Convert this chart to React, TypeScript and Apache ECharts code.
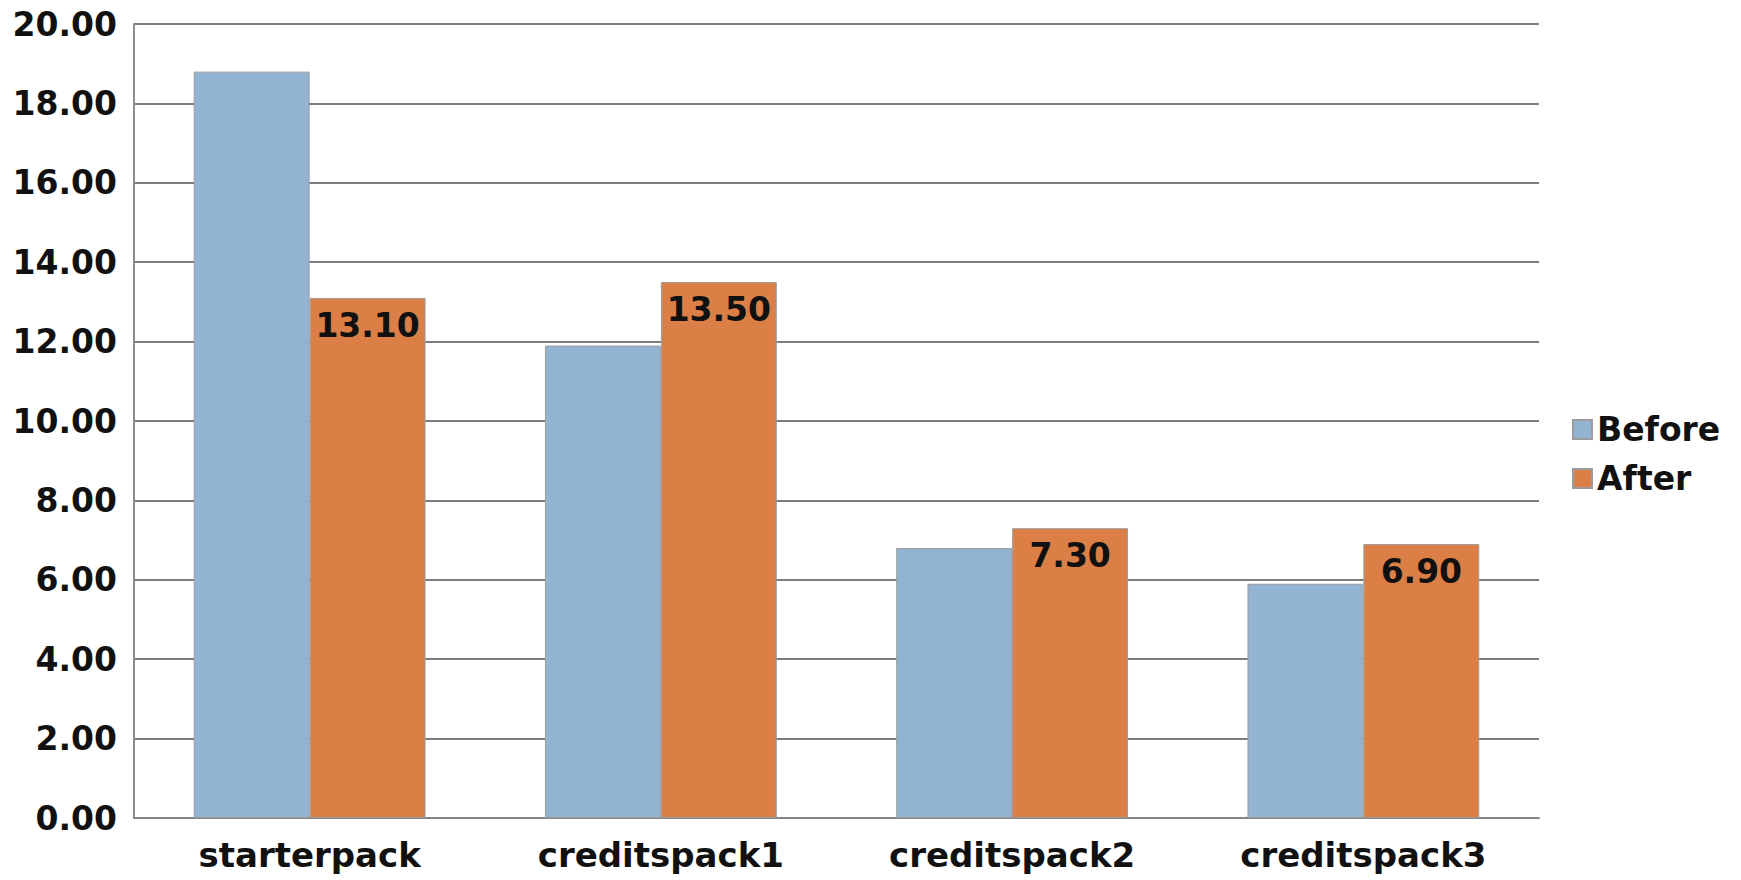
import React, { useEffect, useRef } from "react";
import * as echarts from "echarts";

const categories = ["starterpack", "creditspack1", "creditspack2", "creditspack3"];
const beforeValues = [18.8, 11.9, 6.8, 5.9];
const afterValues = [13.1, 13.5, 7.3, 6.9];
const seriesNames = ["Before", "After"];

const FONT = "DejaVu Sans";

export default function App() {
  const ref = useRef<HTMLDivElement>(null);
  useEffect(() => {
    if (!ref.current) return;
    const chart = echarts.init(ref.current, null, { renderer: "svg" });
    chart.setOption({
      animation: false,
      backgroundColor: "#ffffff",
      textStyle: { fontFamily: FONT },
      grid: { left: 134, right: 202, top: 24, bottom: 62, containLabel: false },
      legend: {
        orient: "vertical",
        left: 1567,
        top: 408,
        itemWidth: 19,
        itemHeight: 19,
        itemGap: 16,
        icon: "rect",
        data: seriesNames,
        textStyle: { fontFamily: FONT, fontWeight: "bold", fontSize: 33, color: "#111", lineHeight: 30, width: 140 },
      },
      xAxis: {
        type: "category",
        data: categories,
        axisTick: { show: false },
        axisLine: { lineStyle: { color: "#858585", width: 2 } },
        axisLabel: { fontFamily: FONT, fontWeight: "bold", fontSize: 34, color: "#111", margin: 20 },
      },
      yAxis: {
        type: "value",
        min: 0,
        max: 20,
        interval: 2,
        axisLine: { show: true, lineStyle: { color: "#8c8c8c", width: 2 } },
        axisTick: { show: false },
        splitLine: { lineStyle: { color: "#7c7c7c", width: 2 } },
        axisLabel: {
          fontFamily: FONT,
          fontWeight: "bold",
          fontSize: 33,
          color: "#111",
          margin: 17,
          formatter: (v: number) => v.toFixed(2),
        },
      },
      series: [
        {
          name: seriesNames[0],
          type: "bar",
          data: beforeValues,
          barGap: "0%",
          barCategoryGap: "34%",
          itemStyle: { color: "#93b3d2", borderColor: "#9c9c9c", borderWidth: 1 },
        },
        {
          name: seriesNames[1],
          type: "bar",
          data: afterValues,
          barGap: "0%",
          barCategoryGap: "34%",
          itemStyle: { color: "#dc7f46", borderColor: "#9c9c9c", borderWidth: 1 },
          label: {
            show: true,
            position: "insideTop",
            distance: 11,
            fontFamily: FONT,
            fontWeight: "bold",
            fontSize: 33,
            color: "#111",
            formatter: (p: any) => Number(p.value).toFixed(2),
          },
        },
      ],
    });
    return () => chart.dispose();
  }, []);
  return (
    <div
      ref={ref}
      style={{ position: "fixed", left: 0, top: 0, width: 1741, height: 880, background: "#fff" }}
    />
  );
}
